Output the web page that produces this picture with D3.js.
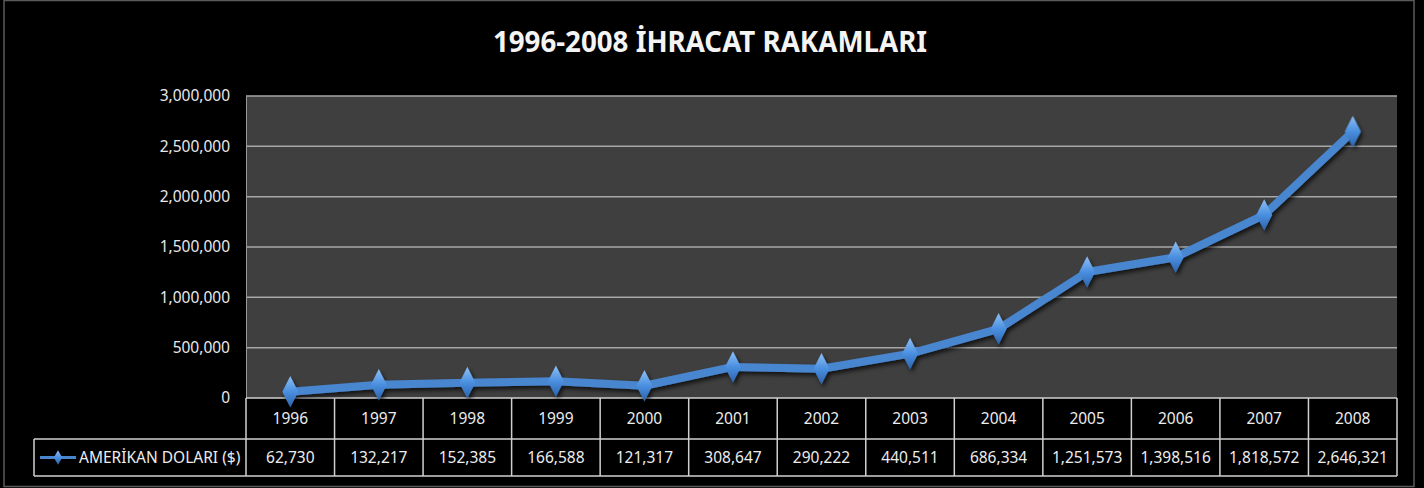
<!DOCTYPE html>
<html>
<head>
<meta charset="utf-8">
<script src="https://cdn.jsdelivr.net/npm/d3@7"></script>
<style>
  body { margin: 0; background: #000; }
  svg { display: block; }
</style>
</head>
<body>
<svg></svg>
<script>
var years = ["1996","1997","1998","1999","2000","2001","2002","2003","2004","2005","2006","2007","2008"];
var values = [62730,132217,152385,166588,121317,308647,290222,440511,686334,1251573,1398516,1818572,2646321];
var yTicks = [0,500000,1000000,1500000,2000000,2500000,3000000];
var seriesName = "AMERİKAN DOLARI ($)";
var title = "1996-2008 İHRACAT RAKAMLARI";

var width = 1424, height = 488;
var font = "'Noto Sans', sans-serif";
var fs = "15.5px";

var svg = d3.select("svg")
    .attr("width", width)
    .attr("height", height);

var defs = svg.append("defs");
var f = defs.append("filter").attr("id", "shadow").attr("x", "-20%").attr("y", "-20%").attr("width", "140%").attr("height", "140%");
f.append("feGaussianBlur").attr("in", "SourceAlpha").attr("stdDeviation", 2);
f.append("feOffset").attr("dx", 2).attr("dy", 3).attr("result", "b");
f.append("feComponentTransfer").append("feFuncA").attr("type", "linear").attr("slope", 0.7);
var m = f.append("feMerge");
m.append("feMergeNode");
m.append("feMergeNode").attr("in", "SourceGraphic");

var grad = defs.append("linearGradient").attr("id", "dia").attr("x1", 0).attr("y1", 0).attr("x2", 0).attr("y2", 1);
grad.append("stop").attr("offset", "0%").attr("stop-color", "#8fc0f5");
grad.append("stop").attr("offset", "50%").attr("stop-color", "#4a8fe0");
grad.append("stop").attr("offset", "100%").attr("stop-color", "#2c62a8");

// outer frame
svg.append("rect")
    .attr("x", 4).attr("y", 0.5).attr("width", 1410).attr("height", 486)
    .attr("fill", "#000").attr("stroke", "#5a5a5a").attr("stroke-width", 1.5);

var plotLeft = 246, plotRight = 1397, plotTop = 96, plotBottom = 398;
var rowH1 = 41, rowH2 = 37;

var x = d3.scaleBand().domain(years).range([plotLeft, plotRight]).padding(0);
var y = d3.scaleLinear().domain([0, 3000000]).range([plotBottom, plotTop]);

// plot background
svg.append("rect")
    .attr("x", plotLeft).attr("y", plotTop)
    .attr("width", plotRight - plotLeft).attr("height", plotBottom - plotTop)
    .attr("fill", "#3f3f3f");

// gridlines
svg.append("g").selectAll("line")
  .data(yTicks.filter(function(d) { return d > 0; }))
  .enter().append("line")
    .attr("x1", plotLeft).attr("x2", plotRight)
    .attr("y1", function(d) { return y(d); })
    .attr("y2", function(d) { return y(d); })
    .attr("stroke", "#a8a8a8").attr("stroke-width", 1.5);

// y axis labels
var yAxis = d3.axisLeft(y).tickValues(yTicks).tickSize(0).tickPadding(16)
    .tickFormat(d3.format(","));
var ga = svg.append("g").attr("transform", "translate(" + plotLeft + ",0)").call(yAxis);
ga.select(".domain").attr("stroke", "#9a9a9a");
ga.selectAll("text")
    .attr("fill", "#e8e8e8")
    .style("font-family", font)
    .style("font-size", fs);

// data table
var table = svg.append("g");
table.selectAll("text.year")
  .data(years).enter().append("text")
    .attr("class", "year")
    .attr("x", function(d) { return x(d) + x.bandwidth() / 2; })
    .attr("y", plotBottom + rowH1 / 2)
    .attr("dy", "0.35em")
    .attr("text-anchor", "middle")
    .attr("fill", "#ececec")
    .style("font-family", font).style("font-size", fs)
    .text(function(d) { return d; });

table.selectAll("text.val")
  .data(values).enter().append("text")
    .attr("class", "val")
    .attr("x", function(d, i) { return x(years[i]) + x.bandwidth() / 2; })
    .attr("y", plotBottom + rowH1 + rowH2 / 2)
    .attr("dy", "0.35em")
    .attr("text-anchor", "middle")
    .attr("fill", "#ececec")
    .style("font-family", font).style("font-size", fs)
    .text(function(d) { return d3.format(",")(d); });

var border = "#d0d0d0";
// horizontal table lines
[plotBottom, plotBottom + rowH1, plotBottom + rowH1 + rowH2].forEach(function(yy, i) {
  table.append("line")
    .attr("x1", i === 0 ? plotLeft : 34).attr("x2", plotRight)
    .attr("y1", yy).attr("y2", yy)
    .attr("stroke", border).attr("stroke-width", 1.5);
});
// vertical table lines
table.selectAll("line.v")
  .data(years.concat(["end"])).enter().append("line")
    .attr("class", "v")
    .attr("x1", function(d) { return d === "end" ? plotRight : x(d); })
    .attr("x2", function(d) { return d === "end" ? plotRight : x(d); })
    .attr("y1", plotBottom).attr("y2", plotBottom + rowH1 + rowH2)
    .attr("stroke", border).attr("stroke-width", 1.5);
table.append("line")
    .attr("x1", 34).attr("x2", 34)
    .attr("y1", plotBottom + rowH1).attr("y2", plotBottom + rowH1 + rowH2)
    .attr("stroke", border).attr("stroke-width", 1.5);

// legend key in table
var ly = plotBottom + rowH1 + rowH2 / 2;
table.append("line")
    .attr("x1", 40).attr("x2", 76).attr("y1", ly).attr("y2", ly)
    .attr("stroke", "#4a86d0").attr("stroke-width", 3);
table.append("path")
    .attr("d", d3.symbol().type(d3.symbolDiamond).size(60)())
    .attr("transform", "translate(58," + ly + ")")
    .attr("fill", "url(#dia)");
table.append("text")
    .attr("x", 79).attr("y", ly).attr("dy", "0.35em")
    .attr("fill", "#ececec")
    .style("font-family", font).style("font-size", fs)
    .text(seriesName);

// series line
var line = d3.line()
    .x(function(d, i) { return x(years[i]) + x.bandwidth() / 2; })
    .y(function(d) { return y(d); });

var series = svg.append("g").attr("filter", "url(#shadow)");
series.append("path")
    .datum(values)
    .attr("d", line)
    .attr("fill", "none")
    .attr("stroke", "#4a86d0")
    .attr("stroke-width", 8)
    .attr("stroke-linejoin", "round");

series.selectAll("path.pt")
  .data(values).enter().append("path")
    .attr("class", "pt")
    .attr("d", d3.symbol().type(d3.symbolDiamond).size(200)())
    .attr("transform", function(d, i) {
      return "translate(" + (x(years[i]) + x.bandwidth() / 2) + "," + y(d) + ") scale(1.05,1.2)";
    })
    .attr("fill", "url(#dia)");

// title
var t = svg.append("text")
    .attr("x", 710).attr("y", 42).attr("dy", "0.35em")
    .attr("text-anchor", "middle")
    .attr("fill", "#f4f4f4")
    .style("font-family", font).style("font-weight", "bold").style("font-size", "28px")
    .text(title);
var tw = t.node().getComputedTextLength();
t.style("font-size", (28 * 434 / tw).toFixed(1) + "px");
</script>
</body>
</html>
